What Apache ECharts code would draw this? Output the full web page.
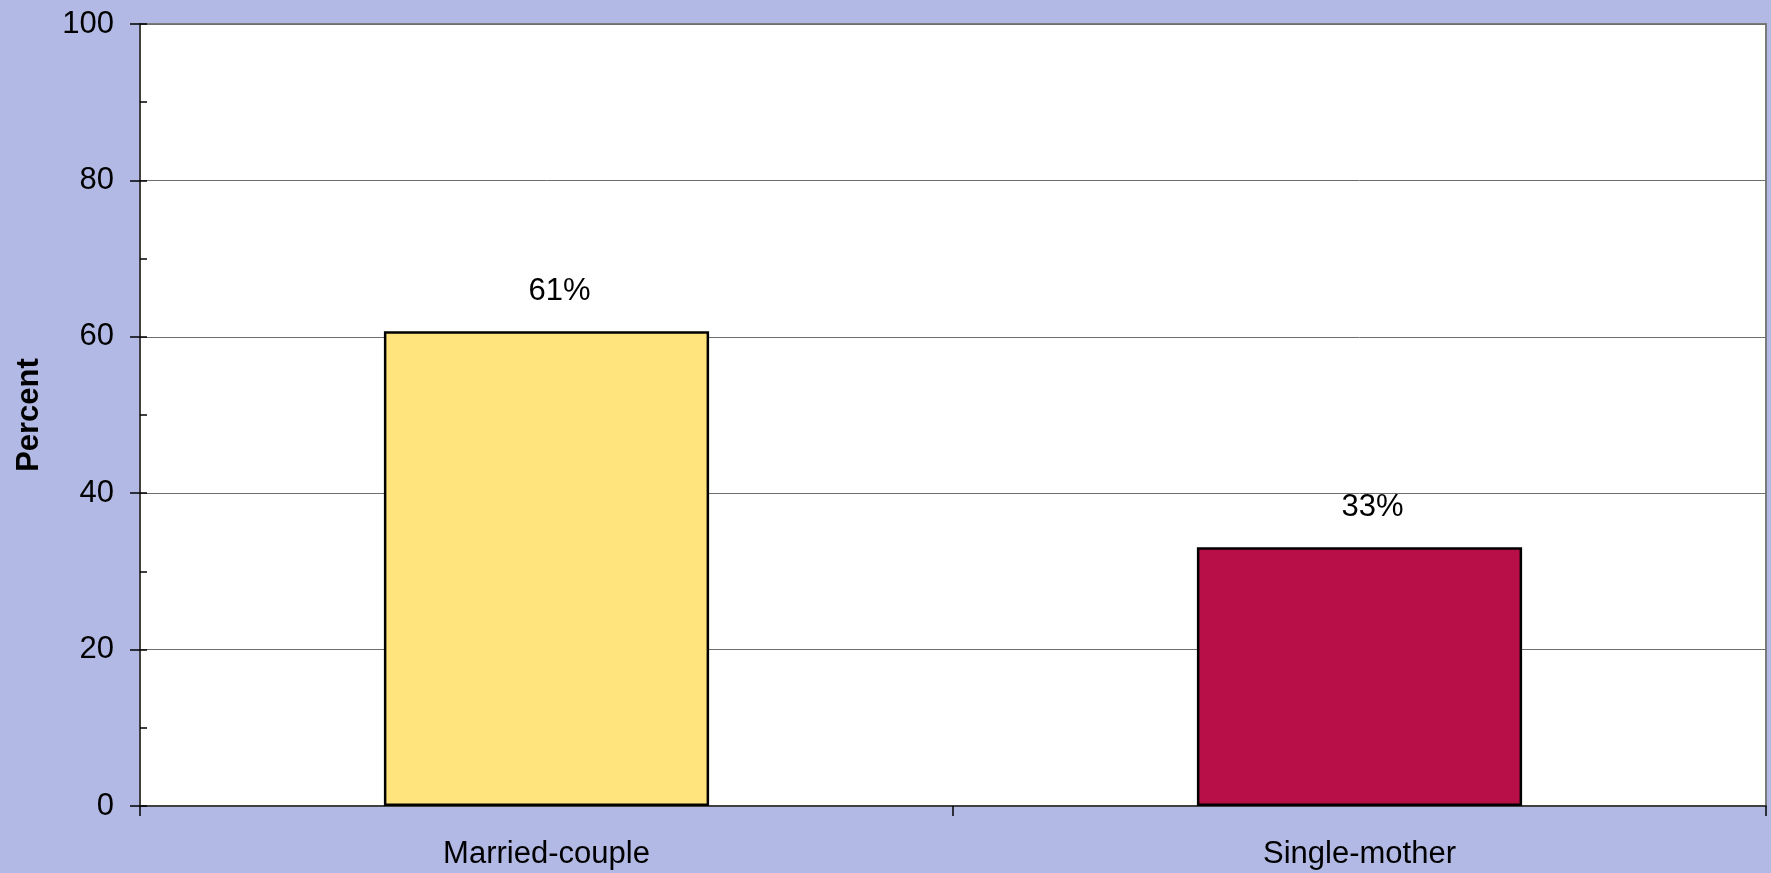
<!DOCTYPE html>
<html>
<head>
<meta charset="utf-8">
<title>Percent by family type</title>
<script src="https://cdn.jsdelivr.net/npm/echarts@6/dist/echarts.min.js"></script>
<style>
  html, body { margin: 0; padding: 0; background: #b2b9e4; }
  #chart { width: 1771px; height: 873px; }
</style>
</head>
<body>
<div id="chart"></div>
<script>
// data
const categories = ['Married-couple', 'Single-mother'];
const percentValues = [60.7, 33.1];
const yTicks = [0, 20, 40, 60, 80, 100];

const FONT = '"Liberation Sans", Arial, sans-serif';
const barColors = ['#ffe47d', '#b90f48'];

const chart = echarts.init(document.getElementById('chart'));

const option = {
  backgroundColor: '#b2b9e4',
  animation: false,
  grid: {
    left: 140,
    right: 5,
    top: 24,
    bottom: 67,
    show: true,
    backgroundColor: '#ffffff',
    borderColor: '#7a7a7a',
    borderWidth: 2
  },
  xAxis: {
    type: 'category',
    data: categories,
    axisLine: { lineStyle: { color: '#404040', width: 2 } },
    axisTick: { show: true, length: 10, lineStyle: { color: '#000', width: 1.5 } },
    axisLabel: { color: '#000', fontSize: 31, fontFamily: FONT, margin: 33 }
  },
  yAxis: [
    {
      type: 'value',
      min: yTicks[0],
      max: yTicks[yTicks.length - 1],
      interval: yTicks[1] - yTicks[0],
      name: 'Percent',
      nameLocation: 'middle',
      nameGap: 95,
      nameRotate: 90,
      nameTextStyle: { color: '#000', fontSize: 31, fontWeight: 'bold', fontFamily: FONT },
      axisLine: { show: true, lineStyle: { color: '#404040', width: 2 } },
      axisTick: { show: true, length: 10, lineStyle: { color: '#000', width: 1.5 } },
      axisLabel: { color: '#000', fontSize: 31, fontFamily: FONT, margin: 26 },
      splitLine: { show: true, lineStyle: { color: '#6e6e6e', width: 1 } }
    },
    {
      // inner ticks every 10
      type: 'value',
      position: 'left',
      min: 0,
      max: 100,
      interval: 10,
      axisLine: { show: false },
      axisTick: { show: true, inside: true, length: 7, lineStyle: { color: '#000', width: 1.5 } },
      axisLabel: { show: false },
      splitLine: { show: false }
    }
  ],
  series: [{
    type: 'bar',
    yAxisIndex: 0,
    data: percentValues,
    barWidth: '40%',
    itemStyle: {
      color: (p) => barColors[p.dataIndex],
      borderColor: '#000',
      borderWidth: 2.5
    },
    label: {
      show: true,
      position: 'top',
      distance: 24,
      offset: [13, 0],
      color: '#000',
      fontSize: 31,
      fontFamily: FONT,
      formatter: (p) => Math.round(p.value) + '%'
    }
  }]
};

chart.setOption(option);
window.addEventListener('resize', () => chart.resize());
</script>
</body>
</html>
